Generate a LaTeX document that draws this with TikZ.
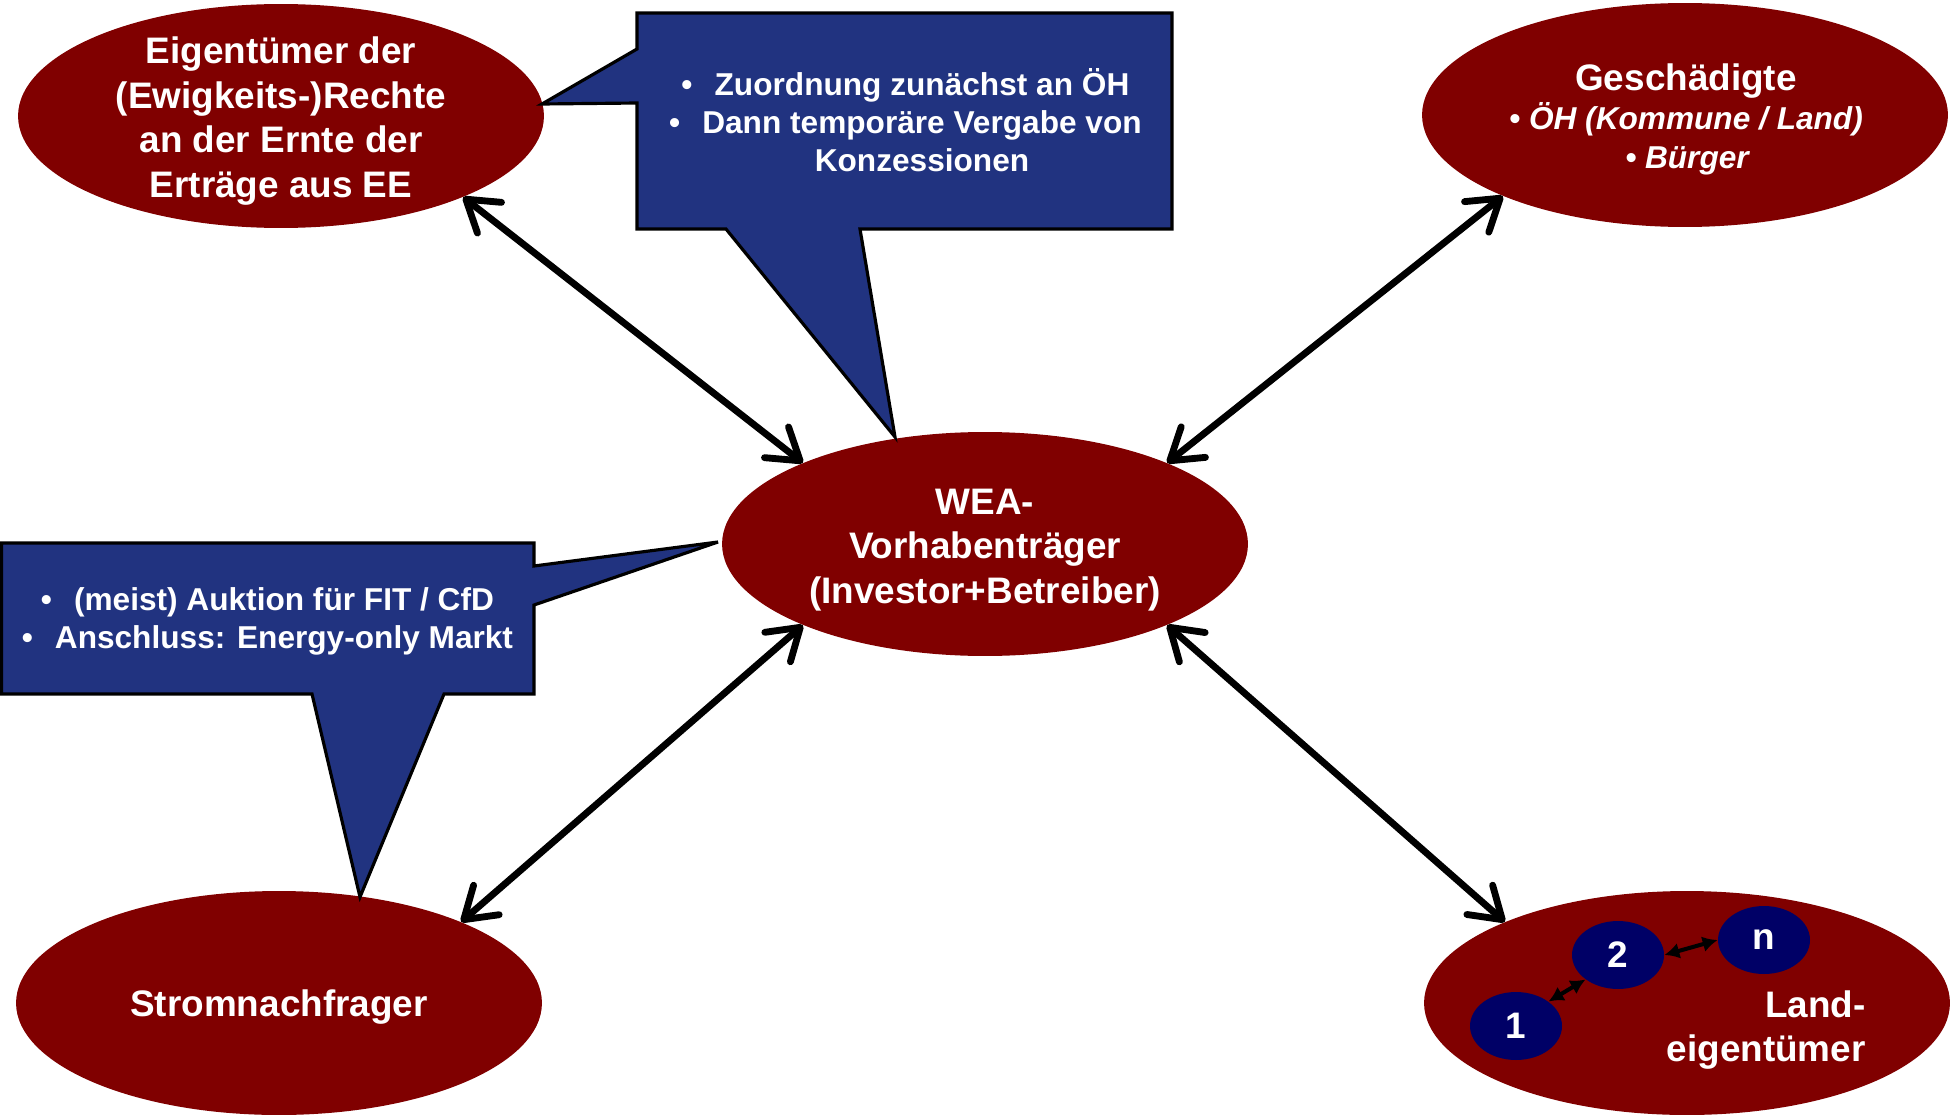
\documentclass[tikz,border=0pt]{standalone}
\usepackage{fontspec}
\setmainfont{Liberation Sans}
\usetikzlibrary{arrows.meta,shapes.geometric}
\definecolor{dred}{RGB}{128,0,0}
\definecolor{cbox}{RGB}{33,51,128}
\definecolor{navyblue}{RGB}{0,0,102}
\begin{document}
\begin{tikzpicture}[x=0.02cm,y=-0.02cm,
  party/.style={ellipse, fill=dred, minimum width=10.52cm, minimum height=4.48cm, inner sep=0pt},
  subnode/.style={ellipse, fill=navyblue, minimum width=1.84cm, minimum height=1.36cm, inner sep=0pt, text=white, font=\bfseries\fontsize{21}{25}\selectfont},
  bubble/.style={fill=cbox, draw=black, line width=1.8pt, line join=miter},
  ctext/.style={text=white, font=\bfseries\fontsize{18}{21.6}\selectfont, align=center, inner sep=0pt},
  wtext/.style={text=white, inner sep=0pt, align=center, font=\bfseries\fontsize{21}{25.5}\selectfont},
  relarrow/.style={line width=3.9pt, {Straight Barb[length=0.6cm,width=0.78cm,round]}-{Straight Barb[length=0.6cm,width=0.78cm,round]}},
  linkarrow/.style={line width=2.3pt, {Latex[length=0.3cm,width=0.32cm]}-{Latex[length=0.3cm,width=0.32cm]}}
]
\useasboundingbox (0,0) rectangle (1951,1115);

% main ellipses
\node[party] (eig) at (281,116) {};
\node[party] (ges) at (1685,115) {};
\node[party] (wea) at (985,544) {};
\node[party] (strom) at (279,1003) {};
\node[party] (land) at (1687,1003) {};

% ellipse texts
\node[wtext] (eigtext) at (281,121) {Eigentümer der\\(Ewigkeits-)Rechte\\an der Ernte der\\Erträge aus EE};
\node[wtext] (weatext) at (985,550) {WEA-\\Vorhabenträger\\(Investor+Betreiber)};
\node[wtext] (stromtext) at (279,1007) {Stromnachfrager};
\node[wtext] (gestitle) at (1686,81) {Geschädigte};
\node[wtext, font=\bfseries\itshape\fontsize{18}{22}\selectfont] (gesoh) at (1686,119) {• ÖH (Kommune / Land)};
\node[wtext, font=\bfseries\itshape\fontsize{18}{22}\selectfont] (gesbu) at (1687,161) {• Bürger};

% Landeigentümer
\node[subnode] (one) at (1516,1026) {1};
\node[subnode] (two) at (1618,955) {2};
\node[subnode] (nn) at (1764,940) {n};
\node[wtext, align=right, anchor=east] (landtext) at (1866,1030) {Land-\\eigentümer};
\draw[linkarrow] (one.37) -- (two.217);
\draw[linkarrow] (two.0) -- (nn.180);

% callouts
\path[bubble] (637,13) -- (1172,13) -- (1172,229) -- (860,229) -- (895,437) -- (726,229) -- (637,229) -- (637,103) -- (542,104) -- (637,49) -- cycle;
\node[ctext] (toptext) at (922,120) {\llap{•\hspace{0.7em}}Zuordnung zunächst an ÖH\\\llap{•\hspace{0.7em}}Dann temporäre Vergabe von\\Konzessionen};

\path[bubble] (1.5,543) -- (534,543) -- (534,566) -- (718,542) -- (534,605) -- (534,694) -- (444,694) -- (360,897) -- (312,694) -- (1.5,694) -- cycle;
\node[ctext] (lefttext) at (284,621) {\llap{•\hspace{0.7em}}(meist) Auktion für FIT / CfD\\\llap{•\hspace{0.7em}}Anschluss: Energy-only Markt};

% relations
\draw[relarrow] (eig.-24) -- (wea.156);
\draw[relarrow] (ges.204) -- (wea.24);
\draw[relarrow] (wea.204) -- (strom.24);
\draw[relarrow] (wea.-24) -- (land.156);
\end{tikzpicture}
\end{document}
